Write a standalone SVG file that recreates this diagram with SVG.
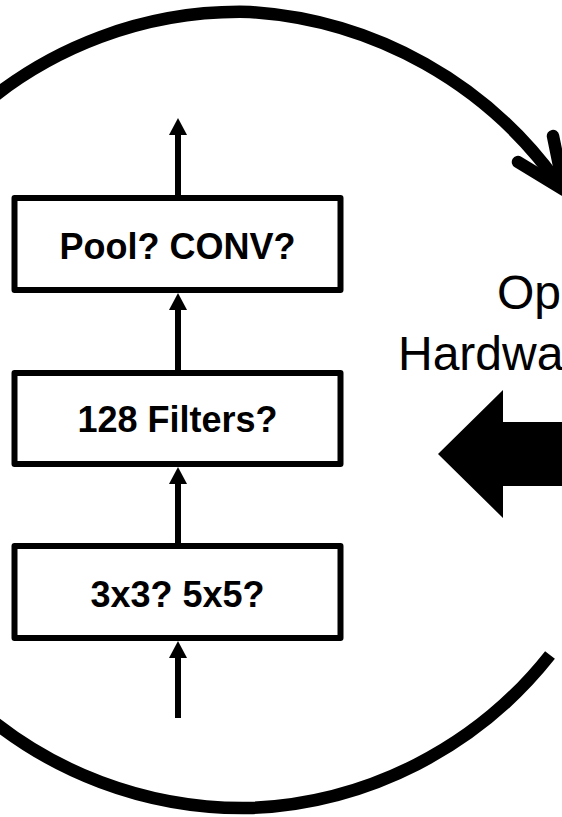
<svg xmlns="http://www.w3.org/2000/svg" width="562" height="817" viewBox="0 0 562 817">
  <style>
    .box { fill: #ffffff; stroke: #000000; stroke-width: 6; stroke-linejoin: round; }
    .label { font-family: "Liberation Sans", Arial, sans-serif; font-weight: bold; font-size: 36px; text-anchor: middle; fill: #000000; }
    .note { font-family: "Liberation Sans", Arial, sans-serif; font-size: 48px; fill: #000000; }
    .shaft { stroke: #000000; stroke-width: 6; fill: none; }
    .head { fill: #000000; }
    .loop { fill: none; stroke: #000000; stroke-width: 12.5; }
  </style>

  <rect width="562" height="817" fill="#ffffff"/>

  <!-- big feedback loop around the layer stack -->
  <g id="loop">
    <path class="loop" d="M 550 655 A 403 403 0 0 1 250 808 A 403 403 0 0 1 -160 410 A 400 400 0 0 1 250 12 A 410 410 0 0 1 560 186"/>
    <polyline class="loop" points="553,136 564,190 518,162" stroke-linecap="round" stroke-linejoin="round"/>
  </g>

  <!-- side note -->
  <g id="note">
    <text class="note" x="497" y="309">Op</text>
    <text class="note" x="398" y="370">Hardwa</text>
  </g>

  <!-- block arrow pointing at the stack -->
  <g id="block-arrow">
    <polygon fill="#000000" points="438,454 503,390 503,422 570,422 570,486 503,486 503,518"/>
  </g>

  <!-- connectors -->
  <g id="connectors">
    <line class="shaft" x1="178" y1="718" x2="178" y2="655"/>
    <polygon class="head" points="178,641 187,658 169,658"/>
    <line class="shaft" x1="178" y1="546" x2="178" y2="482"/>
    <polygon class="head" points="178,467 187,484 169,484"/>
    <line class="shaft" x1="178" y1="373" x2="178" y2="308"/>
    <polygon class="head" points="178,293 187,310 169,310"/>
    <line class="shaft" x1="178" y1="198" x2="178" y2="133"/>
    <polygon class="head" points="178,118 187,135 169,135"/>
  </g>

  <g id="node-pool">
    <rect class="box" x="14.5" y="198" width="326" height="92"/>
    <text class="label" x="177.5" y="259">Pool? CONV?</text>
  </g>
  <g id="node-filters">
    <rect class="box" x="14.5" y="373" width="326" height="91"/>
    <text class="label" x="177.5" y="432">128 Filters?</text>
  </g>
  <g id="node-kernel">
    <rect class="box" x="14.5" y="546" width="326" height="92"/>
    <text class="label" x="177.5" y="607">3x3? 5x5?</text>
  </g>
</svg>
